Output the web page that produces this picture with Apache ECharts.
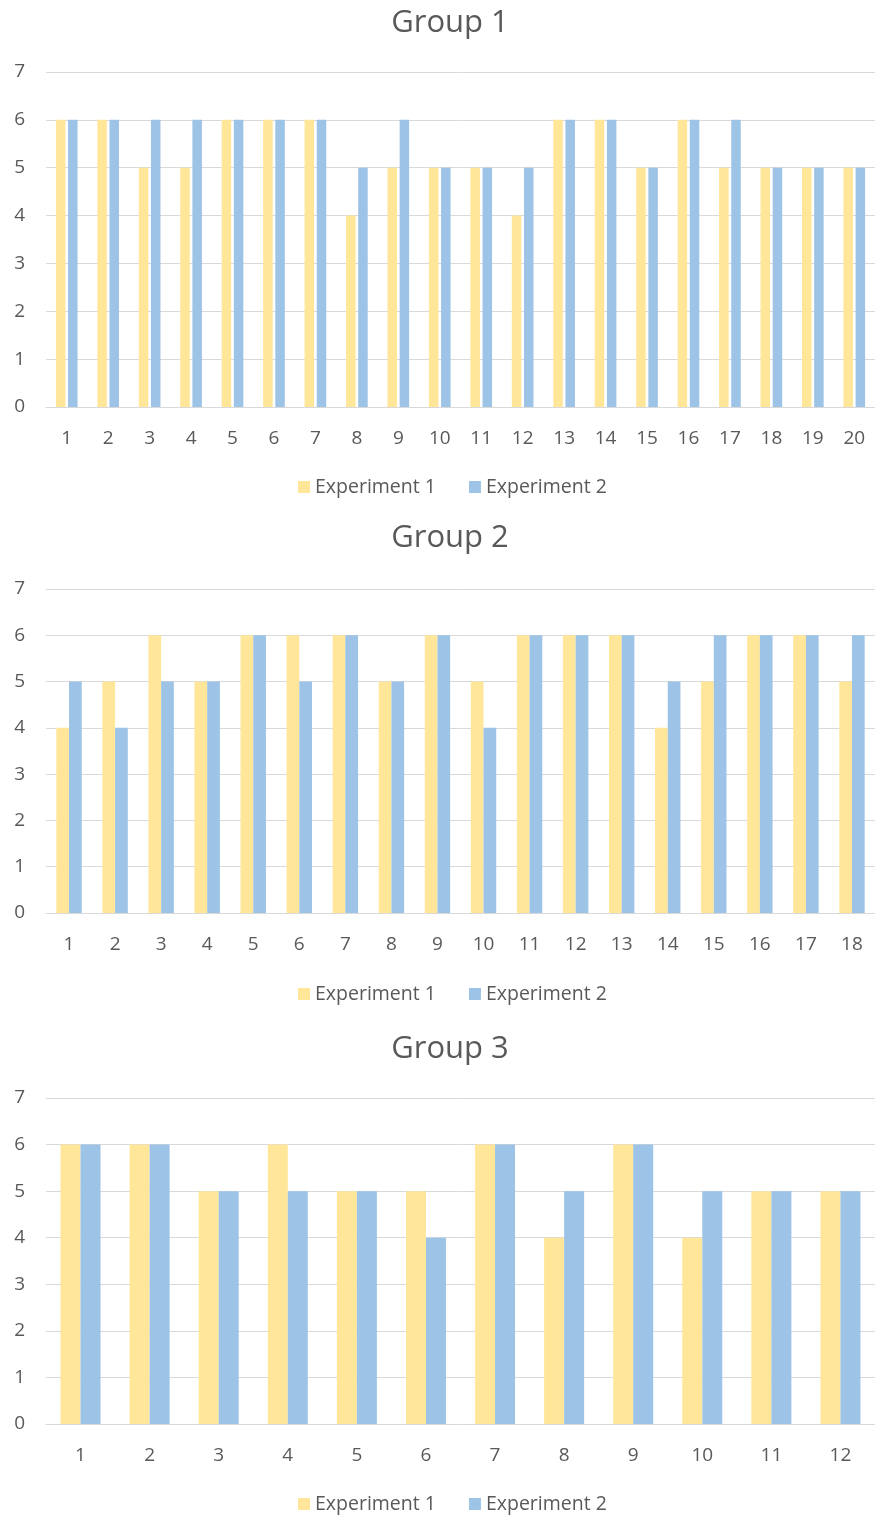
<!DOCTYPE html>
<html>
<head>
<meta charset="utf-8">
<script src="https://cdn.jsdelivr.net/npm/echarts@6/dist/echarts.min.js"></script>
<style>
  html, body { margin: 0; padding: 0; background: #fff; }
  #main { width: 875px; height: 1517px; }
</style>
</head>
<body>
<div id="main"></div>
<script>
// data
const seriesNames = ['Experiment 1', 'Experiment 2']
const yTicks = [0, 1, 2, 3, 4, 5, 6, 7]

const group1Cats = ['1','2','3','4','5','6','7','8','9','10','11','12','13','14','15','16','17','18','19','20']
const group1Exp1 = [6,6,5,5,6,6,6,4,5,5,5,4,6,6,5,6,5,5,5,5]
const group1Exp2 = [6,6,6,6,6,6,6,5,6,5,5,5,6,6,5,6,6,5,5,5]

const group2Cats = ['1','2','3','4','5','6','7','8','9','10','11','12','13','14','15','16','17','18']
const group2Exp1 = [4,5,6,5,6,6,6,5,6,5,6,6,6,4,5,6,6,5]
const group2Exp2 = [5,4,5,5,6,5,6,5,6,4,6,6,6,5,6,6,6,6]

const group3Cats = ['1','2','3','4','5','6','7','8','9','10','11','12']
const group3Exp1 = [6,6,5,6,5,5,6,4,6,4,5,5]
const group3Exp2 = [6,6,5,5,5,4,6,5,6,5,5,5]

const titles = ['Group 1', 'Group 2', 'Group 3']

const FONT = "'Open Sans', 'Noto Sans', sans-serif"
const TEXT = '#595959'
const YELLOW = '#FFE699'
const BLUE = '#9DC3E6'
const GRIDLINE = '#D9D9D9'

// layout per panel (pixels)
const panels = [
    { cats: group1Cats, e1: group1Exp1, e2: group1Exp2, titleTop: 8, gridTop: 72, gridH: 335, legendTop: 477, barWidth: 9.5, barGap: '28%' },
    { cats: group2Cats, e1: group2Exp1, e2: group2Exp2, titleTop: 523, gridTop: 589, gridH: 324, legendTop: 984, barWidth: 12.7, barGap: '0%' },
    { cats: group3Cats, e1: group3Exp1, e2: group3Exp2, titleTop: 1034, gridTop: 1098, gridH: 326, legendTop: 1494, barWidth: 20, barGap: '0%' }
]

const title = []
const grid = []
const xAxis = []
const yAxis = []
const legend = []
const series = []

panels.forEach((p, i) => {
    title.push({
        text: titles[i],
        left: 450,
        textAlign: 'center',
        top: p.titleTop,
        padding: 0,
        textStyle: { fontFamily: FONT, fontSize: 31, fontWeight: 'normal', color: TEXT }
    })
    grid.push({ left: 46, right: 0, top: p.gridTop, height: p.gridH })
    xAxis.push({
        type: 'category',
        gridIndex: i,
        data: p.cats,
        axisLine: { show: true, lineStyle: { color: GRIDLINE, width: 1 } },
        axisTick: { show: false },
        axisLabel: { color: TEXT, fontFamily: FONT, fontSize: 19, margin: 22, interval: 0 }
    })
    yAxis.push({
        type: 'value',
        gridIndex: i,
        min: yTicks[0],
        max: yTicks[yTicks.length - 1],
        interval: 1,
        axisLine: { show: false },
        axisTick: { show: false },
        splitLine: { lineStyle: { color: GRIDLINE, width: 1 } },
        axisLabel: { color: TEXT, fontFamily: FONT, fontSize: 19, margin: 21 }
    })
    legend.push({
        left: 298,
        top: p.legendTop,
        padding: 0,
        itemWidth: 12,
        itemHeight: 12,
        itemGap: 33,
        icon: 'rect',
        data: seriesNames,
        textStyle: { color: TEXT, fontFamily: FONT, fontSize: 19.5 }
    })
    series.push({
        name: seriesNames[0],
        type: 'bar',
        xAxisIndex: i,
        yAxisIndex: i,
        data: p.e1,
        barWidth: p.barWidth,
        barGap: p.barGap,
        itemStyle: { color: YELLOW }
    })
    series.push({
        name: seriesNames[1],
        type: 'bar',
        xAxisIndex: i,
        yAxisIndex: i,
        data: p.e2,
        barWidth: p.barWidth,
        barGap: p.barGap,
        itemStyle: { color: BLUE }
    })
})

const myChart = echarts.init(document.getElementById('main'))
const option = {
    animation: false,
    backgroundColor: '#fff',
    title: title,
    grid: grid,
    xAxis: xAxis,
    yAxis: yAxis,
    legend: legend,
    series: series
}
option && myChart.setOption(option)
</script>
</body>
</html>
